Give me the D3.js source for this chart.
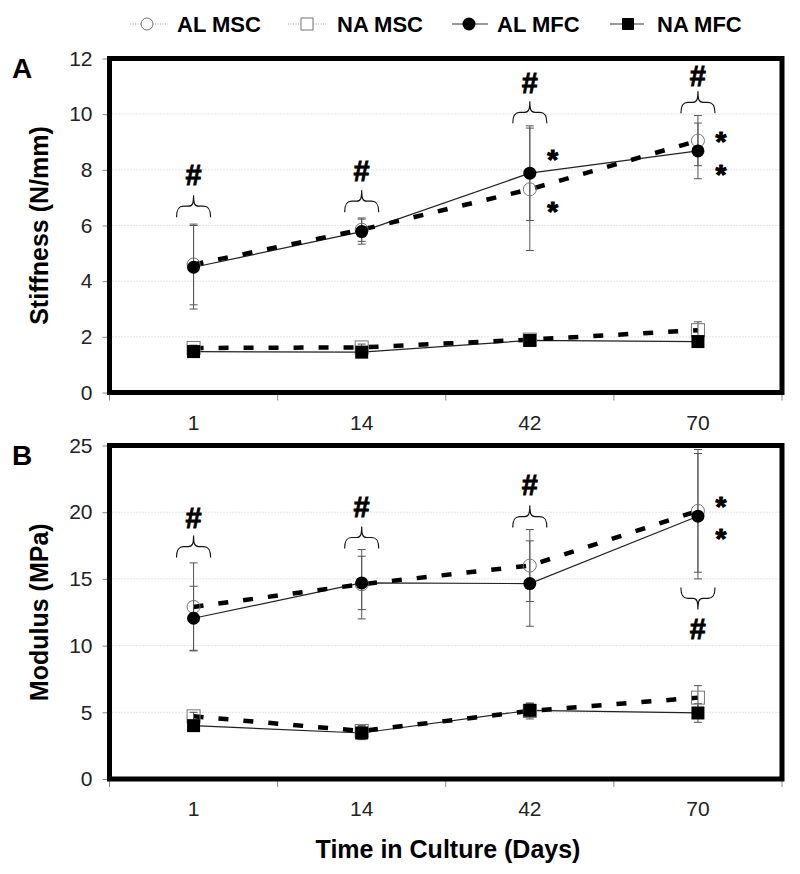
<!DOCTYPE html>
<html>
<head>
<meta charset="utf-8">
<script src="https://cdn.jsdelivr.net/npm/d3@7"></script>
<style>
  html, body { margin: 0; padding: 0; background: #fff; }
  svg { display: block; font-family: "Liberation Sans", Arial, sans-serif; }
</style>
</head>
<body>
<svg id="chart" width="800" height="874"></svg>
<script>
// ---------- DATA ----------
const categories = ["1", "14", "42", "70"];
const seriesNames = ["AL MSC", "NA MSC", "AL MFC", "NA MFC"];

// Panel A: Stiffness (N/mm)
const stiffTicks = [0, 2, 4, 6, 8, 10, 12];
const stiffALMSC = [4.6, 5.85, 7.3, 9.05];
const stiffALMSCErr = [1.45, 0.42, 2.2, 0.9];
const stiffNAMSC = [1.6, 1.62, 1.9, 2.24];
const stiffNAMSCErr = [0.1, 0.12, 0.1, 0.3];
const stiffALMFC = [4.5, 5.78, 7.88, 8.68];
const stiffALMFCErr = [1.5, 0.45, 1.7, 1.0];
const stiffNAMFC = [1.47, 1.45, 1.87, 1.83];
const stiffNAMFCErr = [0.08, 0.08, 0.08, 0.08];
const stiffBraceEnds = [6.3, 6.48, 9.67, 10.03];   // brace base (data units)
const stiffBraceDir = [1, 1, 1, 1];                // 1 = tip points up
const stiffHash = [7.84, 7.99, 11.14, 11.39];
const stiffStarCats = ["42", "42", "70", "70"];
const stiffStars = [8.6, 6.73, 9.26, 8.07];

// Panel B: Modulus (MPa)
const modTicks = [0, 5, 10, 15, 20, 25];
const modALMSC = [12.9, 14.6, 16.0, 20.1];
const modALMSCErr = [3.3, 2.6, 2.7, 4.6];
const modNAMSC = [4.7, 3.6, 5.1, 6.1];
const modNAMSCErr = [0.3, 0.4, 0.6, 0.9];
const modALMFC = [12.05, 14.7, 14.65, 19.7];
const modALMFCErr = [2.4, 2.0, 3.2, 4.7];
const modNAMFC = [4.0, 3.45, 5.15, 4.95];
const modNAMFCErr = [0.2, 0.5, 0.5, 0.7];
const modBraceEnds = [16.6, 17.28, 18.85, 14.36];
const modBraceDir = [1, 1, 1, -1];
const modHash = [19.6, 20.4, 22.06, 11.29];
const modStarCats = ["70", "70"];
const modStars = [20.95, 18.55];

// ---------- LAYOUT ----------
const svg = d3.select("#chart");
const plotLeft = 109.5, plotRight = 782;
const x = d3.scaleBand().domain(categories).range([plotLeft, plotRight]);
const xc = c => x(c) + x.bandwidth() / 2;

function bracePath(cx, y0, dir) {
  const h = 22 * dir, hh = 11 * dir, w = 17;
  return `M${cx - w},${y0} C${cx - w},${y0 - 8 * dir} ${cx - w + 2},${y0 - hh} ${cx - 10},${y0 - hh}` +
         ` L${cx - 5},${y0 - hh} C${cx - 1},${y0 - hh} ${cx},${y0 - 14 * dir} ${cx},${y0 - h}` +
         ` C${cx},${y0 - 14 * dir} ${cx + 1},${y0 - hh} ${cx + 5},${y0 - hh}` +
         ` L${cx + 10},${y0 - hh} C${cx + w - 2},${y0 - hh} ${cx + w},${y0 - 8 * dir} ${cx + w},${y0}`;
}

function drawPanel(p) {
  const g = svg.append("g");
  const y = d3.scaleLinear().domain([0, p.max]).range([p.bottom, p.top]);

  // gridlines
  g.selectAll("line.grid").data(p.ticks.filter(t => t > 0 && t < p.max)).join("line")
    .attr("x1", plotLeft).attr("x2", plotRight)
    .attr("y1", d => y(d)).attr("y2", d => y(d))
    .attr("stroke", "#c8c8c8").attr("stroke-width", 1).attr("stroke-dasharray", "1,2");

  // y axis
  const ya = g.append("g").attr("transform", `translate(${plotLeft},0)`)
    .call(d3.axisLeft(y).tickValues(p.ticks).tickSize(7).tickPadding(10).tickFormat(d3.format("d")));
  ya.select(".domain").remove();
  ya.selectAll(".tick line").attr("stroke", "#888");
  ya.selectAll(".tick text").attr("font-size", 21).attr("fill", "#222")
    .attr("font-family", "Liberation Sans, Arial, sans-serif");

  // x axis: boundary ticks
  const bounds = categories.map(c => x(c)).concat([plotRight]);
  g.selectAll("line.xt").data(bounds).join("line")
    .attr("x1", d => d).attr("x2", d => d)
    .attr("y1", p.bottom).attr("y2", p.bottom + 8)
    .attr("stroke", "#888").attr("stroke-width", 1);
  g.selectAll("text.xl").data(categories).join("text")
    .attr("x", d => xc(d)).attr("y", p.bottom + 37)
    .attr("text-anchor", "middle").attr("font-size", 21).attr("fill", "#222")
    .text(d => d);

  // lines
  const line = d3.line().x((d, i) => xc(categories[i])).y(d => y(d));
  [p.alMFC, p.naMFC].forEach(s => {
    g.append("path").datum(s).attr("d", line).attr("fill", "none")
      .attr("stroke", "#222").attr("stroke-width", 1.2);
  });
  [p.alMSC, p.naMSC].forEach(s => {
    g.append("path").datum(s).attr("d", line).attr("fill", "none")
      .attr("stroke", "#000").attr("stroke-width", 4.5).attr("stroke-dasharray", "10,15");
  });

  // error bars
  const errSeries = [[p.alMSC, p.alMSCErr], [p.naMSC, p.naMSCErr], [p.alMFC, p.alMFCErr], [p.naMFC, p.naMFCErr]];
  errSeries.forEach(([vals, errs]) => {
    const eg = g.append("g").attr("stroke", "#555").attr("stroke-width", 1);
    vals.forEach((v, i) => {
      const cx = xc(categories[i]);
      eg.append("line").attr("x1", cx).attr("x2", cx).attr("y1", y(v - errs[i])).attr("y2", y(v + errs[i]));
      [v - errs[i], v + errs[i]].forEach(e => {
        eg.append("line").attr("x1", cx - 4).attr("x2", cx + 4).attr("y1", y(e)).attr("y2", y(e));
      });
    });
  });

  // markers: open first, filled on top
  g.selectAll("circle.almsc").data(p.alMSC).join("circle")
    .attr("cx", (d, i) => xc(categories[i])).attr("cy", d => y(d)).attr("r", 6.5)
    .attr("fill", "none").attr("stroke", "#777").attr("stroke-width", 1);
  g.selectAll("rect.namsc").data(p.naMSC).join("rect")
    .attr("x", (d, i) => xc(categories[i]) - 6.5).attr("y", d => y(d) - 6.5)
    .attr("width", 13).attr("height", 13)
    .attr("fill", "none").attr("stroke", "#777").attr("stroke-width", 1);
  g.selectAll("circle.almfc").data(p.alMFC).join("circle")
    .attr("cx", (d, i) => xc(categories[i])).attr("cy", d => y(d)).attr("r", 6.5)
    .attr("fill", "#000");
  g.selectAll("rect.namfc").data(p.naMFC).join("rect")
    .attr("x", (d, i) => xc(categories[i]) - 6.5).attr("y", d => y(d) - 6.5)
    .attr("width", 13).attr("height", 13).attr("fill", "#000");

  // braces and hashes
  p.braceEnds.forEach((v, i) => {
    g.append("path").attr("d", bracePath(xc(categories[i]), y(v), p.braceDir[i]))
      .attr("fill", "none").attr("stroke", "#111").attr("stroke-width", 1.2);
  });
  g.selectAll("text.hash").data(p.hash).join("text")
    .attr("x", (d, i) => xc(categories[i])).attr("y", d => y(d) + 10.5)
    .attr("text-anchor", "middle").attr("font-size", 29).attr("font-weight", "bold")
    .attr("fill", "#000").attr("stroke", "#000").attr("stroke-width", 0.8)
    .text("#");

  // stars
  g.selectAll("text.star").data(p.stars).join("text")
    .attr("x", (d, i) => xc(p.starCats[i]) + 23).attr("y", d => y(d) + 16)
    .attr("text-anchor", "middle").attr("font-size", 28).attr("font-weight", "bold")
    .attr("fill", "#000").attr("stroke", "#000").attr("stroke-width", 1)
    .text("*");

  // frame
  g.append("rect").attr("x", plotLeft).attr("y", p.top)
    .attr("width", plotRight - plotLeft).attr("height", p.bottom - p.top)
    .attr("fill", "none").attr("stroke", "#000").attr("stroke-width", 5);

  // panel letter
  g.append("text").attr("x", 12).attr("y", p.top + 19).attr("font-size", 28)
    .attr("font-weight", "bold").attr("fill", "#000").text(p.letter);

  // y title
  g.append("text")
    .attr("transform", `translate(48,${(p.top + p.bottom) / 2}) rotate(-90)`)
    .attr("text-anchor", "middle").attr("font-size", 25).attr("font-weight", "bold")
    .attr("fill", "#000").text(p.title);
}

drawPanel({
  letter: "A", title: "Stiffness (N/mm)", top: 58.5, bottom: 392.5, max: 12, ticks: stiffTicks,
  alMSC: stiffALMSC, alMSCErr: stiffALMSCErr, naMSC: stiffNAMSC, naMSCErr: stiffNAMSCErr,
  alMFC: stiffALMFC, alMFCErr: stiffALMFCErr, naMFC: stiffNAMFC, naMFCErr: stiffNAMFCErr,
  braceEnds: stiffBraceEnds, braceDir: stiffBraceDir, hash: stiffHash,
  stars: stiffStars, starCats: stiffStarCats
});
drawPanel({
  letter: "B", title: "Modulus (MPa)", top: 445.5, bottom: 779, max: 25, ticks: modTicks,
  alMSC: modALMSC, alMSCErr: modALMSCErr, naMSC: modNAMSC, naMSCErr: modNAMSCErr,
  alMFC: modALMFC, alMFCErr: modALMFCErr, naMFC: modNAMFC, naMFCErr: modNAMFCErr,
  braceEnds: modBraceEnds, braceDir: modBraceDir, hash: modHash,
  stars: modStars, starCats: modStarCats
});

// x title
svg.append("text").attr("x", 448).attr("y", 858).attr("text-anchor", "middle")
  .attr("font-size", 25).attr("font-weight", "bold").attr("fill", "#000")
  .text("Time in Culture (Days)");

// legend
const legendItems = [
  { name: seriesNames[0], x1: 130, x2: 168, mx: 147, shape: "circle", filled: false, tx: 177 },
  { name: seriesNames[1], x1: 288, x2: 326, mx: 307, shape: "square", filled: false, tx: 337 },
  { name: seriesNames[2], x1: 452, x2: 488, mx: 469, shape: "circle", filled: true, tx: 497 },
  { name: seriesNames[3], x1: 610, x2: 644, mx: 628, shape: "square", filled: true, tx: 657 }
];
const ly = 24;
const lg = svg.append("g");
legendItems.forEach(it => {
  lg.append("line").attr("x1", it.x1).attr("x2", it.x2).attr("y1", ly).attr("y2", ly)
    .attr("stroke", it.filled ? "#333" : "#999").attr("stroke-width", 1)
    .attr("stroke-dasharray", it.filled ? null : "1,1.5");
  if (it.shape === "circle") {
    lg.append("circle").attr("cx", it.mx).attr("cy", ly).attr("r", it.filled ? 6.5 : 6)
      .attr("fill", it.filled ? "#000" : "#fff").attr("stroke", it.filled ? "none" : "#777");
  } else {
    lg.append("rect").attr("x", it.mx - 6).attr("y", ly - 6).attr("width", 12).attr("height", 12)
      .attr("fill", it.filled ? "#000" : "#fff").attr("stroke", it.filled ? "none" : "#777");
  }
  lg.append("text").attr("x", it.tx).attr("y", ly + 8).attr("font-size", 22)
    .attr("font-weight", "bold").attr("fill", "#000").text(it.name);
});
</script>
</body>
</html>
